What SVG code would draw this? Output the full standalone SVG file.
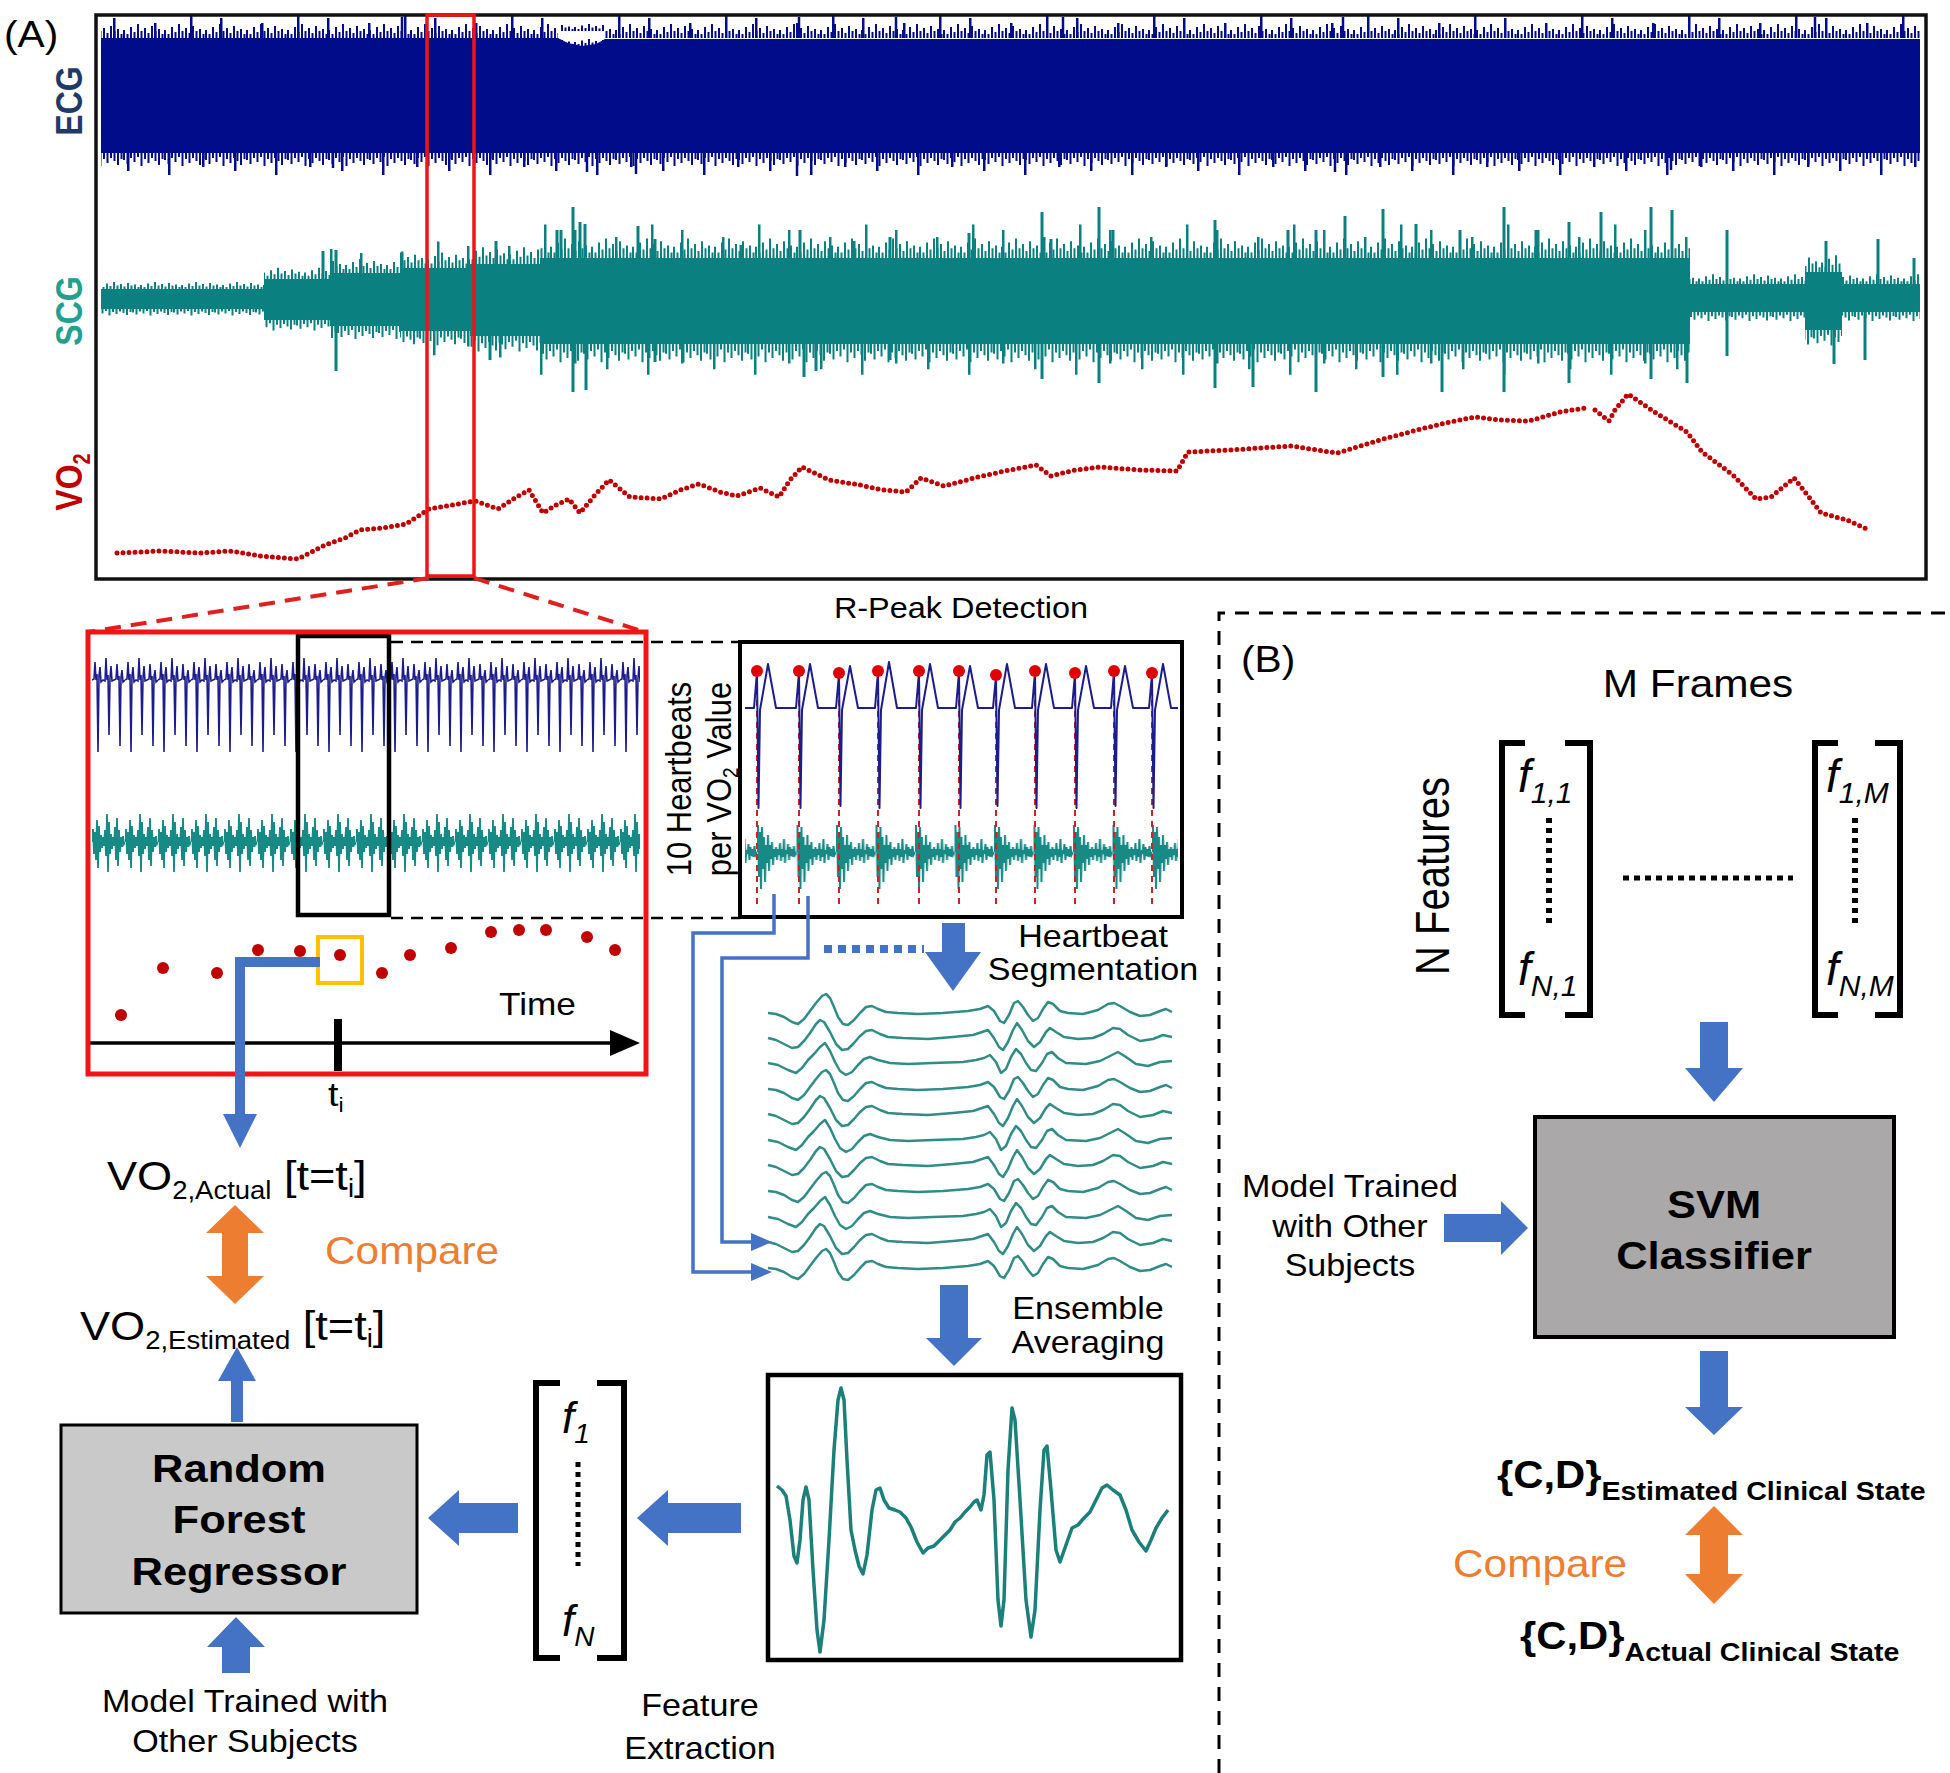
<svg xmlns="http://www.w3.org/2000/svg" width="1950" height="1773" viewBox="0 0 1950 1773">
<style>
.t{font-family:"Liberation Sans",Arial,Helvetica,sans-serif;fill:#000}
.b{font-weight:bold}
.or{fill:#ed7d31}
.arr{fill:#4472c4}
.oarr{fill:#ed7d31}
.hb{fill:none;stroke:#2f8c87;stroke-width:2.5;stroke-linejoin:round}
.fi{font-family:"Liberation Sans",Arial,sans-serif;font-style:italic;fill:#000}
.brk{fill:none;stroke:#000;stroke-width:6}
</style>
<defs>
<path id="bu1" d="M0 0v-8h2v8zM3.5 0v-4h2v4zM7 0v-11h2v11zM10.5 0v-6h2v6zM14 0v-14h2v14zM17.5 0v-7h2v7zM21 0v-10h2v10zM24.5 0v-5h2v5zM28 0v-12h2v12zM31.5 0v-7h2v7zM35 0v-9h2v9zM38.5 0v-4h2v4z"/>
<path id="bd1" d="M0 0v7h2v-7zM3.5 0v11h2v-11zM7 0v5h2v-5zM10.5 0v9h2v-9zM14 0v4h2v-4zM17.5 0v13h2v-13zM21 0v6h2v-6zM24.5 0v10h2v-10zM28 0v5h2v-5zM31.5 0v8h2v-8zM35 0v12h2v-12zM38.5 0v6h2v-6z"/>
<path id="bu2" d="M6 0v-20h2.5v20zM47 0v-15h2.5v15zM83 0v-24h2.5v24z"/>
<path id="bd2" d="M20 0v18h2.5v-18zM61 0v22h2.5v-22zM95 0v14h2.5v-14z"/>
<pattern id="eU1" patternUnits="userSpaceOnUse" width="41" height="30"><use href="#bu1" y="30" fill="#000c8a"/></pattern>
<pattern id="eU2" patternUnits="userSpaceOnUse" width="107" height="30"><use href="#bu2" y="30" fill="#000c8a"/></pattern>
<pattern id="eD1" patternUnits="userSpaceOnUse" width="41" height="30"><use href="#bd1" fill="#000c8a"/></pattern>
<pattern id="eD2" patternUnits="userSpaceOnUse" width="107" height="30"><use href="#bd2" fill="#000c8a"/></pattern>
<pattern id="sU1" patternUnits="userSpaceOnUse" x="17" width="41" height="30"><use href="#bu1" y="30" fill="#0a8080"/></pattern>
<pattern id="sU2" patternUnits="userSpaceOnUse" x="33" width="107" height="30"><use href="#bu2" y="30" fill="#0a8080"/></pattern>
<pattern id="sD1" patternUnits="userSpaceOnUse" x="9" width="41" height="30"><use href="#bd1" fill="#0a8080"/></pattern>
<pattern id="sD2" patternUnits="userSpaceOnUse" x="51" width="107" height="30"><use href="#bd2" fill="#0a8080"/></pattern>
<pattern id="zEcg" patternUnits="userSpaceOnUse" x="92" y="640" width="33" height="125"><polyline fill="none" stroke="#1c1c8c" stroke-width="1.6" points="0,40 2,39 3,22 4,40 5,34 6,112 7,36 8,27 9,42 11,40 13,41 14,18 15,40 16,35 17,95 18,38 19,26 20,41 22,40 24,39 25,24 26,40 27,36 28,106 29,37 30,30 31,42 33,40"/></pattern>
<pattern id="zScg" patternUnits="userSpaceOnUse" x="92" y="782" width="33" height="120"><polyline fill="none" stroke="#178a86" stroke-width="1.8" points="0,60 1,47 2,72 3,50 4,78 5,38 6,86 7,44 8,70 9,53 10,66 11,55 12,64 13,48 14,74 15,32 16,90 17,40 18,72 19,52 20,67 21,55 22,64 23,45 24,78 25,36 26,84 27,48 28,70 29,55 30,65 31,54 32,62 33,60"/></pattern>
<pattern id="rScg" patternUnits="userSpaceOnUse" x="757" y="797" width="39.5" height="110"><polyline fill="none" stroke="#178a86" stroke-width="2" points="0,55 1,28 2,80 3,35 4,92 5,30 6,72 7,40 8,85 9,48 10,66 11,38 12,74 13,48 14,62 15,45 16,68 17,52 18,60 19,50 20,63 21,52 22,58 23,46 24,64 25,52 26,60 27,42 28,66 29,53 30,57 31,47 32,63 33,50 34,59 35,52 36,60 37,49 38,58 39.5,55"/></pattern>
<polyline id="hb1" fill="none" points="0,0 8,1 16,4 24,9 30,11 36,6 42,-2 48,-10 54,-17 58,-19 62,-15 66,-6 70,4 75,11 80,12 86,7 92,0 98,-6 104,-7 110,-4 118,-1 130,0 150,1 175,0 200,-2 212,-4 220,-7 226,-2 232,8 236,10 241,2 246,-10 250,-12 255,-6 260,2 265,8 270,5 275,-4 280,-11 285,-9 292,-2 300,0 315,1 330,-3 340,-9 346,-10 352,-7 362,-1 372,3 382,2 392,-2 398,-4 404,-1"/>
<polyline id="hb2" fill="none" points="0,0 8,2 16,6 24,10 30,9 36,3 42,-5 48,-14 52,-18 56,-16 62,-6 68,6 74,12 80,11 86,5 92,-2 98,-7 104,-8 112,-4 120,-1 135,0 160,1 185,-1 205,-3 214,-6 220,-8 226,0 231,9 235,12 240,4 245,-8 249,-15 254,-8 260,3 266,9 272,4 278,-6 282,-10 288,-6 296,-1 310,1 325,0 335,-4 345,-10 352,-9 360,-3 372,3 385,1 395,-3 404,-1"/>
<polyline id="hb3" fill="none" points="0,0 10,2 20,7 28,10 34,5 40,-3 46,-9 52,-16 57,-20 62,-12 67,-1 72,8 78,12 84,9 90,2 96,-4 102,-6 110,-3 122,0 140,1 165,0 195,-1 208,-3 216,-5 222,-8 228,-1 233,10 238,6 243,-6 248,-14 253,-9 258,0 263,7 268,8 274,0 279,-9 284,-11 290,-5 298,0 318,1 332,-2 342,-7 350,-11 358,-6 368,1 380,3 392,-1 404,-2"/>
</defs>
<rect width="1950" height="1773" fill="#fff"/>

<!-- Panel A top: full recording -->
<g id="recording">
  <g id="ecg-band">
    <path fill="#000c8a" d="M101,38 H558 L568,43 L582,46 L596,44 L605,39 H1920 V153 H101 Z"/>
    <g transform="translate(0,8)"><rect x="101" y="0" width="457" height="30" fill="url(#eU1)"/><rect x="605" y="0" width="1315" height="30" fill="url(#eU1)"/><rect x="101" y="0" width="457" height="30" fill="url(#eU2)"/><rect x="605" y="0" width="1315" height="30" fill="url(#eU2)"/></g>
    <g transform="translate(0,16) scale(1,0.5)"><rect x="560" y="0" width="44" height="60" fill="url(#eU1)"/></g>
    <g transform="translate(0,153)"><rect x="101" y="0" width="1819" height="30" fill="url(#eD1)"/><rect x="101" y="0" width="1819" height="30" fill="url(#eD2)"/></g>
    <path stroke="#000c8a" stroke-width="2.5" d="M402,38V17 M799,38V17 M896,38V17 M1063,38V17 M1343,38V17 M1815,38V17 M333,153V168 M587,153V172 M636,153V174 M797,153V176 M1335,153V172 M1671,153V170"/>
  </g>
  <g id="scg-band">
    <polygon fill="#0a8080" points="101,289 264,289 264,279 330,279 330,273 400,273 400,268 470,268 470,264 540,264 540,258 1690,258 1690,284 1805,284 1805,272 1842,272 1842,284 1920,284 1920,312 1842,312 1842,330 1805,330 1805,312 1690,312 1690,344 540,344 540,336 470,336 470,331 400,331 400,326 330,326 330,320 264,320 264,309 101,309"/>
    <g transform="translate(0,274) scale(1,0.5)"><rect x="101" width="163" height="30" fill="url(#sU1)"/></g>
    <g transform="translate(0,309) scale(1,0.5)"><rect x="101" width="163" height="30" fill="url(#sD1)"/></g>
    <g transform="translate(0,255) scale(1,0.8)"><rect x="264" width="66" height="30" fill="url(#sU1)"/></g>
    <g transform="translate(0,320) scale(1,0.8)"><rect x="264" width="66" height="30" fill="url(#sD1)"/></g>
    <g transform="translate(0,243)"><rect x="330" width="70" height="30" fill="url(#sU1)"/><rect x="330" width="70" height="30" fill="url(#sU2)"/></g>
    <g transform="translate(0,326)"><rect x="330" width="70" height="30" fill="url(#sD1)"/></g>
    <g transform="translate(0,235) scale(1,1.1)"><rect x="400" width="70" height="30" fill="url(#sU1)"/><rect x="400" width="70" height="30" fill="url(#sU2)"/></g>
    <g transform="translate(0,331) scale(1,1.1)"><rect x="400" width="70" height="30" fill="url(#sD1)"/><rect x="400" width="70" height="30" fill="url(#sD2)"/></g>
    <g transform="translate(0,228) scale(1,1.2)"><rect x="470" width="70" height="30" fill="url(#sU1)"/><rect x="470" width="70" height="30" fill="url(#sU2)"/></g>
    <g transform="translate(0,336) scale(1,1.2)"><rect x="470" width="70" height="30" fill="url(#sD1)"/><rect x="470" width="70" height="30" fill="url(#sD2)"/></g>
    <g transform="translate(0,216) scale(1,1.4)"><rect x="540" width="1150" height="30" fill="url(#sU1)"/><rect x="540" width="1150" height="30" fill="url(#sU2)"/></g>
    <g transform="translate(0,344) scale(1,1.4)"><rect x="540" width="1150" height="30" fill="url(#sD1)"/><rect x="540" width="1150" height="30" fill="url(#sD2)"/></g>
    <g transform="translate(0,263) scale(1,0.7)"><rect x="1690" width="115" height="30" fill="url(#sU1)"/><rect x="1842" width="78" height="30" fill="url(#sU1)"/></g>
    <g transform="translate(0,312) scale(1,0.7)"><rect x="1690" width="115" height="30" fill="url(#sD1)"/><rect x="1842" width="78" height="30" fill="url(#sD1)"/></g>
    <g transform="translate(0,236) scale(1,1.2)"><rect x="1805" width="37" height="30" fill="url(#sU1)"/></g>
    <g transform="translate(0,330) scale(1,1.2)"><rect x="1805" width="37" height="30" fill="url(#sD1)"/></g>
    <path stroke="#0a8080" stroke-width="3" d="M323,279V251 M336,273V250 M496,264V241 M557,258V230 M561,258V230 M573,258V207 M580,258V222 M585,258V224 M638,258V226 M655,258V239 M741,258V245 M800,258V230 M854,258V241 M890,258V237 M969,258V233 M1042,258V212 M1051,258V239 M1099,258V207 M1113,258V230 M1215,258V220 M1288,258V230 M1316,258V230 M1345,258V216 M1383,258V209 M1416,258V224 M1460,258V230 M1504,258V207 M1536,258V230 M1569,258V222 M1601,258V212 M1651,258V207 M1672,258V210 M1727,284V230 M1826,272V241 M1878,284V239 M1914,284V258 M336,326V371 M490,336V360 M573,344V392 M586,344V390 M655,344V362 M804,344V377 M816,344V371 M890,344V360 M1042,344V379 M1099,344V383 M1215,344V388 M1253,344V387 M1316,344V392 M1383,344V377 M1442,344V392 M1504,344V392 M1569,344V383 M1651,344V379 M1687,344V383 M1727,312V356 M1834,330V364 M1865,312V360"/>
  </g>
  <path id="vo2-trace" fill="none" stroke="#c00000" stroke-width="5" stroke-linecap="round" stroke-dasharray="0 6" d="M117,553 L140,552 160,551 180,552 200,553 230,551 260,556 298,559 325,545 345,538 360,530 383,528 406,524 429,509 452,505 475,501 498,509 515,498 529,490 543,513 556,505 569,499 580,513 595,495 609,480 630,497 661,499 680,490 699,484 720,492 737,496 760,488 779,497 790,480 802,467 829,480 860,485 883,490 906,492 921,478 944,486 982,476 1010,470 1036,465 1051,476 1075,470 1100,467 1140,470 1177,471 1188,452 1230,450 1291,446 1337,453 1380,440 1421,429 1450,422 1475,417 1500,420 1529,421 1560,412 1585,408 M1595,410 L1609,421 1615,410 1628,394 1656,413 1687,432 1702,452 1733,475 1756,499 1771,497 1794,478 1809,497 1821,513 1847,520 1869,530"/>
  <rect x="96" y="15" width="1830" height="564" fill="none" stroke="#111" stroke-width="3.5"/>
  <rect id="selection" x="427" y="15" width="47" height="561" fill="none" stroke="#f01414" stroke-width="3.5"/>
  <text class="t" transform="translate(4,47) scale(1.1,1)" font-size="37">(A)</text>
  <text class="t b" transform="translate(82,101) scale(1.15,1) rotate(-90)" font-size="32" text-anchor="middle" style="fill:#1f3a68">ECG</text>
  <text class="t b" transform="translate(82,311) scale(1.15,1) rotate(-90)" font-size="32" text-anchor="middle" style="fill:#20a090">SCG</text>
  <text class="t b" transform="translate(82,482) scale(1.15,1) rotate(-90)" font-size="32" text-anchor="middle" style="fill:#c00000">VO<tspan font-size="20" dy="7">2</tspan></text>
</g>

<!-- zoom lines -->
<g id="zoom-lines" fill="none" stroke="#e02020" stroke-width="4" stroke-dasharray="16 10">
  <path d="M429,578 L88,632"/>
  <path d="M474,578 L645,632"/>
</g>

<!-- Zoomed window -->
<g id="zoom-window">
  <rect x="92" y="640" width="548" height="125" fill="url(#zEcg)"/>
  <rect x="92" y="782" width="548" height="120" fill="url(#zScg)"/>
  <rect x="298" y="636" width="91" height="279" fill="none" stroke="#000" stroke-width="4.5"/>
  <g fill="#c00000">
    <circle cx="121" cy="1015" r="6"/><circle cx="163" cy="968" r="6"/><circle cx="217" cy="973" r="6"/><circle cx="258" cy="950" r="6"/><circle cx="300" cy="951" r="6"/><circle cx="340" cy="955" r="6"/><circle cx="382" cy="973" r="6"/><circle cx="410" cy="955" r="6"/><circle cx="451" cy="948" r="6"/><circle cx="491" cy="932" r="6"/><circle cx="519" cy="930" r="6"/><circle cx="546" cy="930" r="6"/><circle cx="587" cy="937" r="6"/><circle cx="615" cy="950" r="6"/>
  </g>
  <rect x="318" y="937" width="44" height="46" fill="none" stroke="#ffc000" stroke-width="4"/>
  <line x1="90" y1="1043" x2="616" y2="1043" stroke="#000" stroke-width="3.5"/>
  <polygon points="610,1030 640,1043 610,1056" fill="#000"/>
  <rect x="334" y="1019" width="8" height="52" fill="#000"/>
  <text class="t" transform="translate(499,1015) scale(1.1,1)" font-size="32">Time</text>
  <text class="t" transform="translate(328,1106) scale(1.1,1)" font-size="34">t<tspan font-size="21" dy="6">i</tspan></text>
  <rect x="88" y="632" width="558" height="442" fill="none" stroke="#f01414" stroke-width="5"/>
</g>

<g id="window-guides" fill="none" stroke="#000" stroke-width="2.5" stroke-dasharray="12 8">
  <path d="M391,642 H740"/>
  <path d="M391,918 H740"/>
</g>

<!-- R-Peak detection -->
<g id="rpeak">
  <text class="t" transform="translate(961,618) scale(1.1,1)" font-size="29.5" text-anchor="middle">R-Peak Detection</text>
  <text class="t" transform="translate(691,779) scale(1.15,1) rotate(-90)" font-size="31" text-anchor="middle">10 Heartbeats</text>
  <text class="t" transform="translate(731,779) scale(1.15,1) rotate(-90)" font-size="31" text-anchor="middle">per VO<tspan font-size="19" dy="6">2</tspan><tspan dy="-6"> Value</tspan></text>
  <rect x="745" y="797" width="433" height="110" fill="url(#rScg)"/>
  <path fill="none" stroke="#d02020" stroke-width="2" stroke-dasharray="6 5" d="M757,678V905 M799,678V905 M839,678V905 M878,678V905 M919,678V905 M959,678V905 M996,678V905 M1035,678V905 M1075,678V905 M1114,678V905 M1152,678V905"/>
  <path fill="none" stroke="#1c1c8c" stroke-width="2" stroke-linejoin="round" d="M745,708 L754,708 L757,672 L758.5,808 L760,710 L768,664 L776,708 L796,708 L799,672 L800.5,808 L802,710 L810,664 L818,708 L836,708 L839,674 L840.5,806 L842,710 L850,666 L858,708 L875,708 L878,672 L879.5,808 L881,710 L889,662 L897,708 L916,708 L919,672 L920.5,808 L922,710 L930,664 L938,708 L956,708 L959,672 L960.5,808 L962,710 L970,666 L978,708 L993,708 L996,676 L997.5,806 L999,710 L1007,664 L1015,708 L1032,708 L1035,672 L1036.5,808 L1038,710 L1046,664 L1054,708 L1072,708 L1075,674 L1076.5,808 L1078,710 L1086,666 L1094,708 L1111,708 L1114,672 L1115.5,806 L1117,710 L1125,666 L1133,708 L1149,708 L1152,674 L1153.5,808 L1155,710 L1163,664 L1171,708 L1178,708"/>
  <g fill="#e00000">
    <circle cx="757" cy="671" r="6"/><circle cx="799" cy="671" r="6"/><circle cx="839" cy="673" r="6"/><circle cx="878" cy="671" r="6"/><circle cx="919" cy="671" r="6"/><circle cx="959" cy="671" r="6"/><circle cx="996" cy="675" r="6"/><circle cx="1035" cy="671" r="6"/><circle cx="1075" cy="673" r="6"/><circle cx="1114" cy="671" r="6"/><circle cx="1152" cy="673" r="6"/>
  </g>
  <rect x="740" y="642" width="442" height="275" fill="none" stroke="#000" stroke-width="4"/>
</g>

<!-- Heartbeat segmentation -->
<g id="segments">
  <text class="t" transform="translate(1093,947) scale(1.1,1)" font-size="31" text-anchor="middle">Heartbeat</text>
  <text class="t" transform="translate(1093,980) scale(1.1,1)" font-size="31" text-anchor="middle">Segmentation</text>
  <use href="#hb1" x="768" y="1013" class="hb"/>
  <use href="#hb2" x="768" y="1038" class="hb"/>
  <use href="#hb3" x="768" y="1063" class="hb"/>
  <use href="#hb1" x="768" y="1089" class="hb"/>
  <use href="#hb2" x="768" y="1114" class="hb"/>
  <use href="#hb3" x="768" y="1140" class="hb"/>
  <use href="#hb2" x="768" y="1165" class="hb"/>
  <use href="#hb1" x="768" y="1191" class="hb"/>
  <use href="#hb3" x="768" y="1217" class="hb"/>
  <use href="#hb2" x="768" y="1242" class="hb"/>
  <use href="#hb1" x="768" y="1268" class="hb"/>
</g>

<!-- Ensemble average -->
<g id="ensemble">
  <text class="t" transform="translate(1088,1319) scale(1.1,1)" font-size="31" text-anchor="middle">Ensemble</text>
  <text class="t" transform="translate(1088,1353) scale(1.1,1)" font-size="31" text-anchor="middle">Averaging</text>
  <rect x="768" y="1375" width="413" height="285" fill="none" stroke="#000" stroke-width="4.5"/>
  <polyline fill="none" stroke="#1b7f7a" stroke-width="3.5" stroke-linejoin="round" points="777,1486 782,1490 786,1496 790,1520 794,1556 797,1563 800,1540 803,1500 806,1487 809,1500 813,1570 817,1630 820,1652 824,1620 829,1540 834,1450 838,1400 841,1388 844,1400 847,1460 851,1530 855,1550 859,1566 863,1574 867,1555 872,1510 876,1490 880,1488 884,1500 889,1508 895,1510 900,1512 906,1518 911,1527 917,1542 923,1553 928,1548 934,1546 939,1541 945,1535 950,1530 955,1522 960,1518 965,1512 970,1507 974,1502 977,1500 981,1510 984,1495 987,1455 990,1452 994,1500 998,1600 1001,1626 1004,1600 1008,1470 1012,1408 1015,1420 1020,1500 1026,1600 1031,1637 1035,1610 1040,1510 1044,1450 1047,1446 1051,1490 1056,1550 1060,1562 1066,1545 1072,1528 1078,1525 1084,1518 1090,1512 1096,1500 1102,1488 1107,1485 1113,1490 1120,1495 1126,1510 1132,1530 1139,1542 1146,1551 1151,1540 1156,1528 1162,1518 1168,1510"/>
</g>

<!-- Feature vector -->
<g id="feature-vector">
  <path class="brk" d="M560,1383 H536 V1658 H560"/>
  <path class="brk" d="M597,1383 H624 V1658 H597"/>
  <text class="fi" x="562" y="1433" font-size="44">f<tspan font-size="28" dy="10">1</tspan></text>
  <line x1="578" y1="1462" x2="578" y2="1566" stroke="#000" stroke-width="5" stroke-dasharray="5 5"/>
  <text class="fi" x="562" y="1636" font-size="44">f<tspan font-size="28" dy="10">N</tspan></text>
  <text class="t" transform="translate(700,1716) scale(1.1,1)" font-size="31" text-anchor="middle">Feature</text>
  <text class="t" transform="translate(700,1759) scale(1.1,1)" font-size="31" text-anchor="middle">Extraction</text>
</g>

<!-- Random forest -->
<g id="random-forest">
  <rect x="61" y="1425" width="356" height="188" fill="#c9c9c9" stroke="#000" stroke-width="3"/>
  <text class="t b" transform="translate(239,1482) scale(1.1,1)" font-size="39.5" text-anchor="middle">Random</text>
  <text class="t b" transform="translate(239,1533) scale(1.1,1)" font-size="39.5" text-anchor="middle">Forest</text>
  <text class="t b" transform="translate(239,1585) scale(1.1,1)" font-size="39.5" text-anchor="middle">Regressor</text>
</g>
<g id="rf-training">
  <text class="t" transform="translate(245,1712) scale(1.1,1)" font-size="31" text-anchor="middle">Model Trained with</text>
  <text class="t" transform="translate(245,1752) scale(1.1,1)" font-size="31" text-anchor="middle">Other Subjects</text>
</g>

<g id="vo2-actual">
  <text class="t" transform="translate(107,1190) scale(1.1,1)" font-size="41">VO<tspan font-size="25" dy="9">2,Actual</tspan><tspan dy="-9"> [t=t</tspan><tspan font-size="25" dy="7">i</tspan><tspan dy="-7">]</tspan></text>
</g>
<g id="vo2-estimated">
  <text class="t" transform="translate(80,1340) scale(1.1,1)" font-size="41">VO<tspan font-size="25" dy="9">2,Estimated</tspan><tspan dy="-9"> [t=t</tspan><tspan font-size="25" dy="7">i</tspan><tspan dy="-7">]</tspan></text>
</g>
<g id="compare-a">
  <text class="t or" transform="translate(325,1264) scale(1.1,1)" font-size="38.5">Compare</text>
</g>

<!-- Panel B -->
<g id="panel-b-frame">
  <path d="M1219,1773 V613 H1950" fill="none" stroke="#000" stroke-width="3" stroke-dasharray="14 10"/>
  <text class="t" transform="translate(1241,672) scale(1.1,1)" font-size="37">(B)</text>
</g>
<g id="feature-matrix">
  <text class="t" transform="translate(1698,697) scale(1.1,1)" font-size="38.5" text-anchor="middle">M Frames</text>
  <text class="t" transform="translate(1449,876) scale(1.2,1) rotate(-90)" font-size="40" text-anchor="middle">N Features</text>
  <path class="brk" d="M1525,743 H1502 V1015 H1525"/>
  <path class="brk" d="M1565,743 H1590 V1015 H1565"/>
  <path class="brk" d="M1838,743 H1815 V1015 H1838"/>
  <path class="brk" d="M1875,743 H1900 V1015 H1875"/>
  <text class="fi" x="1518" y="792" font-size="46">f<tspan font-size="30" dy="11">1,1</tspan></text>
  <text class="fi" x="1518" y="985" font-size="46">f<tspan font-size="30" dy="11">N,1</tspan></text>
  <text class="fi" x="1826" y="792" font-size="46">f<tspan font-size="30" dy="11">1,M</tspan></text>
  <text class="fi" x="1826" y="985" font-size="46">f<tspan font-size="30" dy="11">N,M</tspan></text>
  <g stroke="#000" stroke-width="6" stroke-dasharray="5 5">
    <line x1="1549" y1="818" x2="1549" y2="925"/>
    <line x1="1855" y1="818" x2="1855" y2="925"/>
  </g>
  <line x1="1623" y1="878" x2="1793" y2="878" stroke="#000" stroke-width="5" stroke-dasharray="6 5"/>
</g>
<g id="svm">
  <rect x="1535" y="1117" width="359" height="220" fill="#aaa8a8" stroke="#000" stroke-width="4"/>
  <text class="t b" transform="translate(1714,1218) scale(1.1,1)" font-size="39.5" text-anchor="middle">SVM</text>
  <text class="t b" transform="translate(1714,1269) scale(1.1,1)" font-size="39.5" text-anchor="middle">Classifier</text>
</g>
<g id="svm-training">
  <text class="t" transform="translate(1350,1197) scale(1.1,1)" font-size="31" text-anchor="middle">Model Trained</text>
  <text class="t" transform="translate(1350,1237) scale(1.1,1)" font-size="31" text-anchor="middle">with Other</text>
  <text class="t" transform="translate(1350,1276) scale(1.1,1)" font-size="31" text-anchor="middle">Subjects</text>
</g>
<g id="cd-estimated">
  <text class="t b" transform="translate(1497,1488) scale(1.1,1)" font-size="38">{C,D}<tspan font-size="26" dy="12">Estimated Clinical State</tspan></text>
</g>
<g id="cd-actual">
  <text class="t b" transform="translate(1520,1649) scale(1.1,1)" font-size="38">{C,D}<tspan font-size="26" dy="12">Actual Clinical State</tspan></text>
</g>
<g id="compare-b">
  <text class="t or" transform="translate(1453,1577) scale(1.1,1)" font-size="38.5">Compare</text>
</g>

<!-- Connectors -->
<g id="connectors">
  <path d="M320,962 H240 V1116" fill="none" stroke="#4472c4" stroke-width="10"/>
  <polygon class="arr" points="223,1114 257,1114 240,1148"/>
  <path d="M774,894 V933 H693 V1272 H754" fill="none" stroke="#4472c4" stroke-width="3.5"/>
  <path d="M808,896 V958 H722 V1242 H754" fill="none" stroke="#4472c4" stroke-width="3.5"/>
  <polygon class="arr" points="751,1233 772,1242 751,1251"/>
  <polygon class="arr" points="751,1263 772,1272 751,1281"/>
  <line x1="824" y1="949" x2="924" y2="949" stroke="#4472c4" stroke-width="8" stroke-dasharray="8 6"/>
  <polygon class="arr" points="942,923 965,923 965,952 981,952 953,991 925,952 942,952"/>
  <polygon class="arr" points="940,1285 968,1285 968,1338 982,1338 954,1366 926,1338 940,1338"/>
  <polygon class="arr" points="741,1503 668,1503 668,1490 637,1518 668,1546 668,1533 741,1533"/>
  <polygon class="arr" points="518,1503 459,1503 459,1490 428,1518 459,1546 459,1533 518,1533"/>
  <polygon class="arr" points="231,1422 231,1381 218,1381 237,1347 256,1381 243,1381 243,1422"/>
  <polygon class="arr" points="222,1673 222,1647 207,1647 236,1617 265,1647 250,1647 250,1673"/>
  <polygon class="oarr" points="235,1205 264,1233 248,1233 248,1276 264,1276 235,1304 206,1276 222,1276 222,1233 206,1233"/>
  <polygon class="arr" points="1700,1022 1728,1022 1728,1068 1743,1068 1714,1102 1685,1068 1700,1068"/>
  <polygon class="arr" points="1444,1214 1501,1214 1501,1201 1528,1228 1501,1255 1501,1242 1444,1242"/>
  <polygon class="arr" points="1700,1351 1728,1351 1728,1407 1743,1407 1714,1435 1685,1407 1700,1407"/>
  <polygon class="oarr" points="1714,1506 1743,1535 1728,1535 1728,1574 1743,1574 1714,1604 1685,1574 1700,1574 1700,1535 1685,1535"/>
</g>
</svg>
